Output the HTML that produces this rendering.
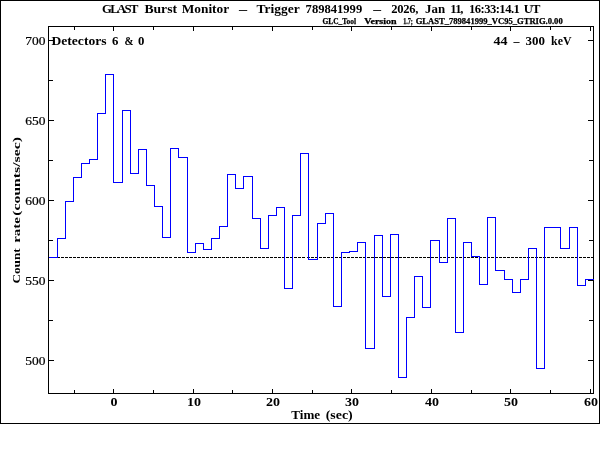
<!DOCTYPE html>
<html><head><meta charset="utf-8"><title>GLAST Burst Monitor</title>
<style>
html,body{margin:0;padding:0;background:#fff;}
svg{display:block;}
text{font-family:"Liberation Serif",serif;fill:#000;}
</style></head><body>
<svg width="600" height="450" viewBox="0 0 600 450">
<rect x="0" y="0" width="600" height="450" fill="#fff"/>
<g shape-rendering="crispEdges">
<rect x="0.5" y="0.5" width="599" height="423" fill="none" stroke="#000" stroke-width="1"/>
<rect x="48.5" y="26.5" width="545" height="367" fill="none" stroke="#000" stroke-width="1"/>
<g fill="#000"><rect x="74" y="390" width="1" height="3"/><rect x="74" y="27" width="1" height="3"/><rect x="113" y="389" width="1" height="4"/><rect x="113" y="27" width="1" height="4"/><rect x="153" y="390" width="1" height="3"/><rect x="153" y="27" width="1" height="3"/><rect x="193" y="389" width="1" height="4"/><rect x="193" y="27" width="1" height="4"/><rect x="232" y="390" width="1" height="3"/><rect x="232" y="27" width="1" height="3"/><rect x="272" y="389" width="1" height="4"/><rect x="272" y="27" width="1" height="4"/><rect x="312" y="390" width="1" height="3"/><rect x="312" y="27" width="1" height="3"/><rect x="351" y="389" width="1" height="4"/><rect x="351" y="27" width="1" height="4"/><rect x="391" y="390" width="1" height="3"/><rect x="391" y="27" width="1" height="3"/><rect x="431" y="389" width="1" height="4"/><rect x="431" y="27" width="1" height="4"/><rect x="471" y="390" width="1" height="3"/><rect x="471" y="27" width="1" height="3"/><rect x="510" y="389" width="1" height="4"/><rect x="510" y="27" width="1" height="4"/><rect x="550" y="390" width="1" height="3"/><rect x="550" y="27" width="1" height="3"/><rect x="590" y="389" width="1" height="4"/><rect x="590" y="27" width="1" height="4"/><rect x="49" y="40" width="5" height="1"/><rect x="588" y="40" width="5" height="1"/><rect x="49" y="80" width="4" height="1"/><rect x="589" y="80" width="4" height="1"/><rect x="49" y="120" width="5" height="1"/><rect x="588" y="120" width="5" height="1"/><rect x="49" y="160" width="4" height="1"/><rect x="589" y="160" width="4" height="1"/><rect x="49" y="200" width="5" height="1"/><rect x="588" y="200" width="5" height="1"/><rect x="49" y="240" width="4" height="1"/><rect x="589" y="240" width="4" height="1"/><rect x="49" y="280" width="5" height="1"/><rect x="588" y="280" width="5" height="1"/><rect x="49" y="320" width="4" height="1"/><rect x="589" y="320" width="4" height="1"/><rect x="49" y="360" width="5" height="1"/><rect x="588" y="360" width="5" height="1"/></g>
<path d="M49 257.5H172M174 257.5H305M307 257.5H593" stroke="#000" stroke-width="1" stroke-dasharray="3 1" fill="none"/>
<path d="M48.5 257.5H57.5V238.5H65.5V201.5H73.5V177.5H81.5V163.5H89.5V159.5H97.5V113.5H105.5V74.5H113.5V182.5H122.5V110.5H130.5V173.5H138.5V149.5H146.5V185.5H154.5V206.5H162.5V237.5H170.5V148.5H178.5V157.5H187.5V252.5H195.5V243.5H203.5V249.5H211.5V238.5H219.5V226.5H227.5V174.5H235.5V188.5H243.5V176.5H252.5V218.5H260.5V248.5H268.5V215.5H276.5V207.5H284.5V288.5H292.5V215.5H300.5V153.5H308.5V259.5H317.5V223.5H325.5V213.5H333.5V306.5H341.5V252.5H349.5V251.5H357.5V242.5H365.5V348.5H374.5V235.5H382.5V296.5H390.5V234.5H398.5V377.5H406.5V317.5H414.5V276.5H422.5V307.5H430.5V240.5H439.5V262.5H447.5V218.5H455.5V332.5H463.5V242.5H471.5V256.5H479.5V284.5H487.5V217.5H495.5V270.5H504.5V279.5H512.5V292.5H520.5V279.5H528.5V248.5H536.5V368.5H544.5V227.5H552.5V227.5H560.5V248.5H569.5V227.5H577.5V285.5H585.5V279.5H593.5" fill="none" stroke="#0000ff" stroke-width="1"/>
</g>
<text x="102.0" y="13.1" font-size="12.6" font-weight="bold" text-anchor="start" textLength="36.3" lengthAdjust="spacing">GLAST</text>
<text x="144.4" y="13.1" font-size="12.6" font-weight="bold" text-anchor="start" textLength="32.6" lengthAdjust="spacingAndGlyphs">Burst</text>
<text x="181.7" y="13.1" font-size="12.6" font-weight="bold" text-anchor="start" textLength="47.5" lengthAdjust="spacingAndGlyphs">Monitor</text>
<text x="238.9" y="13.1" font-size="12.6" font-weight="bold" text-anchor="start" textLength="8.1" lengthAdjust="spacingAndGlyphs">–</text>
<text x="256.5" y="13.1" font-size="12.6" font-weight="bold" text-anchor="start" textLength="43.3" lengthAdjust="spacingAndGlyphs">Trigger</text>
<text x="305.6" y="13.1" font-size="12.6" font-weight="bold" text-anchor="start" textLength="56.6" lengthAdjust="spacingAndGlyphs">789841999</text>
<text x="373.3" y="13.1" font-size="12.6" font-weight="bold" text-anchor="start" textLength="7.8" lengthAdjust="spacingAndGlyphs">–</text>
<text x="391.2" y="13.1" font-size="12.6" font-weight="bold" text-anchor="start" textLength="27.1" lengthAdjust="spacing">2026,</text>
<text x="425.0" y="13.1" font-size="12.6" font-weight="bold" text-anchor="start" textLength="20.1" lengthAdjust="spacingAndGlyphs">Jan</text>
<text x="469.0" y="13.1" font-size="12.6" font-weight="bold" text-anchor="start" textLength="50.8" lengthAdjust="spacing">16:33:14.1</text>
<text x="523.7" y="13.1" font-size="12.6" font-weight="bold" text-anchor="start" textLength="16.6" lengthAdjust="spacing">UT</text>
<text x="450.2 455.3 460.2" y="13.1" font-size="12.6" font-weight="bold">11,</text>
<text x="322.4" y="23.7" font-size="8" font-weight="bold" text-anchor="start" textLength="33.6" lengthAdjust="spacingAndGlyphs" stroke="#000" stroke-width="0.25">GLC_Tool</text>
<text x="364.2" y="23.7" font-size="8" font-weight="bold" text-anchor="start" textLength="32.3" lengthAdjust="spacingAndGlyphs" stroke="#000" stroke-width="0.25">Version</text>
<text x="403.2" y="23.7" font-size="8" font-weight="bold" text-anchor="start" textLength="9.7" lengthAdjust="spacingAndGlyphs" stroke="#000" stroke-width="0.25">1.7;</text>
<text x="415.7" y="23.7" font-size="8" font-weight="bold" text-anchor="start" textLength="147.0" lengthAdjust="spacingAndGlyphs" stroke="#000" stroke-width="0.25">GLAST_789841999_VC95_GTRIG.0.00</text>
<text x="51.5" y="45.1" font-size="12" font-weight="bold" text-anchor="start" textLength="55.0" lengthAdjust="spacingAndGlyphs">Detectors</text>
<text x="112.1" y="45.1" font-size="12" font-weight="bold" text-anchor="start" textLength="6.4" lengthAdjust="spacingAndGlyphs">6</text>
<text x="124.5" y="45.1" font-size="12" font-weight="bold" text-anchor="start" textLength="9.0" lengthAdjust="spacingAndGlyphs">&amp;</text>
<text x="138.1" y="45.1" font-size="12" font-weight="bold" text-anchor="start" textLength="6.4" lengthAdjust="spacingAndGlyphs">0</text>
<text x="493.5" y="45.1" font-size="12" font-weight="bold" text-anchor="start" textLength="14.0" lengthAdjust="spacingAndGlyphs">44</text>
<text x="513.5" y="45.1" font-size="12" font-weight="bold" text-anchor="start" textLength="6.0" lengthAdjust="spacingAndGlyphs">–</text>
<text x="525.5" y="45.1" font-size="12" font-weight="bold" text-anchor="start" textLength="19.4" lengthAdjust="spacingAndGlyphs">300</text>
<text x="551.1" y="45.1" font-size="12" font-weight="bold" text-anchor="start" textLength="20.4" lengthAdjust="spacingAndGlyphs">keV</text>
<text x="25.3" y="44.9" font-size="11.5" font-weight="normal" text-anchor="start" textLength="20.2" lengthAdjust="spacingAndGlyphs" stroke="#000" stroke-width="0.2">700</text>
<text x="25.3" y="124.9" font-size="11.5" font-weight="normal" text-anchor="start" textLength="20.2" lengthAdjust="spacingAndGlyphs" stroke="#000" stroke-width="0.2">650</text>
<text x="25.3" y="204.9" font-size="11.5" font-weight="normal" text-anchor="start" textLength="20.2" lengthAdjust="spacingAndGlyphs" stroke="#000" stroke-width="0.2">600</text>
<text x="25.3" y="284.9" font-size="11.5" font-weight="normal" text-anchor="start" textLength="20.2" lengthAdjust="spacingAndGlyphs" stroke="#000" stroke-width="0.2">550</text>
<text x="25.3" y="364.9" font-size="11.5" font-weight="normal" text-anchor="start" textLength="20.2" lengthAdjust="spacingAndGlyphs" stroke="#000" stroke-width="0.2">500</text>
<text x="110.6" y="406.3" font-size="12" font-weight="bold" text-anchor="start" textLength="7.0" lengthAdjust="spacingAndGlyphs">0</text>
<text x="187.1" y="406.3" font-size="12" font-weight="bold" text-anchor="start" textLength="14.0" lengthAdjust="spacingAndGlyphs">10</text>
<text x="266.1" y="406.3" font-size="12" font-weight="bold" text-anchor="start" textLength="14.0" lengthAdjust="spacingAndGlyphs">20</text>
<text x="345.1" y="406.3" font-size="12" font-weight="bold" text-anchor="start" textLength="14.0" lengthAdjust="spacingAndGlyphs">30</text>
<text x="425.1" y="406.3" font-size="12" font-weight="bold" text-anchor="start" textLength="14.0" lengthAdjust="spacingAndGlyphs">40</text>
<text x="504.1" y="406.3" font-size="12" font-weight="bold" text-anchor="start" textLength="14.0" lengthAdjust="spacingAndGlyphs">50</text>
<text x="584.1" y="406.3" font-size="12" font-weight="bold" text-anchor="start" textLength="14.0" lengthAdjust="spacingAndGlyphs">60</text>
<text x="291.3" y="419.0" font-size="11.5" font-weight="bold" text-anchor="start" textLength="28.8" lengthAdjust="spacingAndGlyphs">Time</text>
<text x="325.7" y="419.0" font-size="11.5" font-weight="bold" text-anchor="start" textLength="27.0" lengthAdjust="spacingAndGlyphs">(sec)</text>

<g transform="translate(20.4,283) rotate(-90)"><text x="-0.5" y="0.0" font-size="10.5" font-weight="bold" text-anchor="start" textLength="35.2" lengthAdjust="spacingAndGlyphs">Count</text>
<text x="40.2" y="0.0" font-size="10.5" font-weight="bold" text-anchor="start" textLength="25.6" lengthAdjust="spacingAndGlyphs">rate</text>
<text x="67.3" y="0.0" font-size="10.5" font-weight="bold" text-anchor="start" textLength="78.6" lengthAdjust="spacingAndGlyphs">(counts/sec)</text>
</g>
</svg>
</body></html>
